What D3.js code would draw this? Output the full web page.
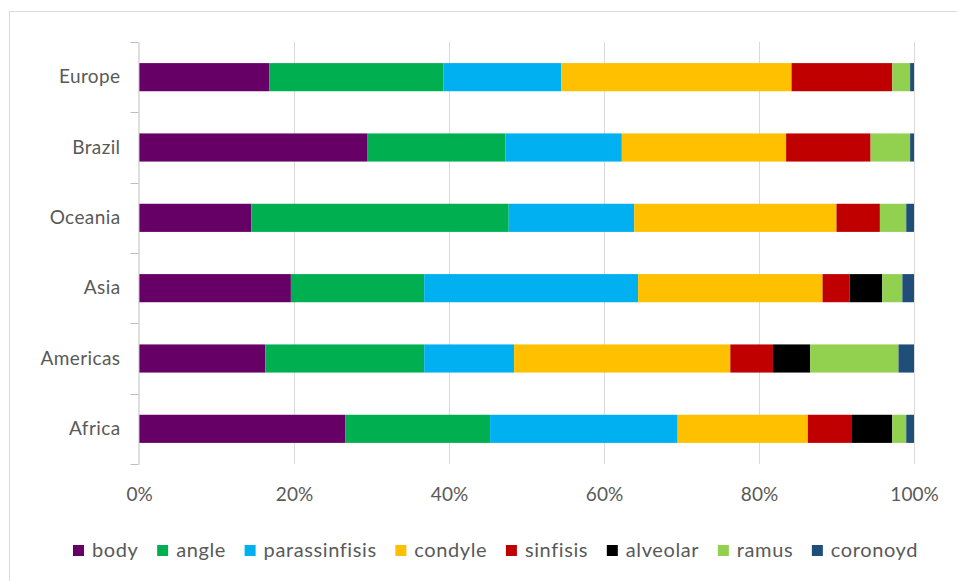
<!DOCTYPE html>
<html><head><meta charset="utf-8">
<script src="https://cdn.jsdelivr.net/npm/d3@7"></script>
<style>body{margin:0;background:#fff}svg{display:block}text{font-family:Lato,"Open Sans",sans-serif;fill:#595959}</style>
</head><body>
<svg id="c" width="957" height="581"></svg>
<script>
const categories = ["Europe","Brazil","Oceania","Asia","Americas","Africa"];
const seriesNames = ["body","angle","parassinfisis","condyle","sinfisis","alveolar","ramus","coronoyd"];
const seriesColors = ["#660066","#00B050","#00B0F0","#FFC000","#C00000","#000000","#92D050","#1F4E79"];
const body          = [16.8, 29.5, 14.5, 19.6, 16.3, 26.6];
const angle         = [22.5, 17.8, 33.2, 17.2, 20.5, 18.7];
const parassinfisis = [15.2, 15.0, 16.2, 27.6, 11.6, 24.2];
const condyle       = [29.7, 21.2, 26.1, 23.8, 27.9, 16.8];
const sinfisis      = [13.0, 10.9,  5.6,  3.5,  5.5,  5.7];
const alveolar      = [ 0.0,  0.0,  0.0,  4.2,  4.8,  5.2];
const ramus         = [ 2.3,  5.1,  3.4,  2.6, 11.4,  1.8];
const coronoyd      = [ 0.5,  0.5,  1.0,  1.5,  2.0,  1.0];
const tickValues = [0, 0.2, 0.4, 0.6, 0.8, 1.0];
const tickLabels = ["0%","20%","40%","60%","80%","100%"];

const seriesData = [body, angle, parassinfisis, condyle, sinfisis, alveolar, ramus, coronoyd];
const rows = categories.map((c, i) => {
  const r = {category: c};
  const tot = d3.sum(seriesData, s => s[i]);
  seriesNames.forEach((n, k) => r[n] = seriesData[k][i] / tot);
  return r;
});
const stack = d3.stack().keys(seriesNames)(rows);

const svg = d3.select("#c");
const x = d3.scaleLinear().domain([0, 1]).range([139, 914]);
const y = d3.scaleBand().domain(categories).range([42, 464]).paddingInner(0.6).paddingOuter(0.3);
const color = d3.scaleOrdinal().domain(seriesNames).range(seriesColors);

// frame
svg.append("rect").attr("x", 9.5).attr("y", 11.5).attr("width", 960).attr("height", 600)
  .attr("fill", "#fff").attr("stroke", "#d9d9d9");

// gridlines
svg.append("g").selectAll("line").data(tickValues.slice(1)).join("line")
  .attr("x1", d => Math.round(x(d)) + 0.5).attr("x2", d => Math.round(x(d)) + 0.5)
  .attr("y1", 42).attr("y2", 464).attr("stroke", "#d9d9d9");

// bars
svg.append("g").selectAll("g").data(stack).join("g")
  .attr("fill", d => color(d.key))
  .selectAll("rect").data(d => d).join("rect")
  .attr("x", d => x(d[0])).attr("width", d => x(d[1]) - x(d[0]))
  .attr("y", d => y(d.data.category)).attr("height", y.bandwidth());

// y axis
const yAxis = d3.axisLeft(y).tickSize(0).tickPadding(18);
const gy = svg.append("g").attr("transform", "translate(138.5,0)").call(yAxis);
gy.select(".domain").attr("stroke", "#bfbfbf");
gy.selectAll("text").attr("font-size", 19).attr("fill", "#595959").style("font-family", "Lato").style("letter-spacing", "0.4px");
const boundaries = [42].concat(categories.map(c => y(c) + y.bandwidth() + y.step() * 0.3));
gy.selectAll(".btick").data(boundaries).join("line").attr("class", "btick")
  .attr("x1", -8).attr("x2", 0).attr("y1", d => Math.round(d) + 0.5).attr("y2", d => Math.round(d) + 0.5)
  .attr("stroke", "#bfbfbf");

// x axis
const xAxis = d3.axisBottom(x).tickValues(tickValues).tickFormat((d, i) => tickLabels[i]).tickSize(0).tickPadding(24);
const gx = svg.append("g").attr("transform", "translate(0,464)").call(xAxis);
gx.select(".domain").remove();
gx.selectAll("text").attr("font-size", 19).attr("fill", "#595959").style("font-family", "Lato");

// legend: spread across the measured legend span
const legendLeft = 73, legendRight = 918;
const lg = svg.append("g").attr("transform", "translate(0,550)");
const items = seriesNames.map((n, k) => {
  const g = lg.append("g");
  g.append("rect").attr("x", 0).attr("y", -5).attr("width", 11).attr("height", 11).attr("fill", seriesColors[k]);
  const t = g.append("text").attr("x", 19).attr("y", 0).attr("dy", "0.35em")
    .attr("font-size", 20).style("letter-spacing", "0.6px").text(n);
  return {g, w: 19 + t.node().getComputedTextLength()};
});
const sumW = d3.sum(items, d => d.w);
const gap = (legendRight - legendLeft - sumW) / (items.length - 1);
let cx = legendLeft;
items.forEach(it => { it.g.attr("transform", `translate(${cx},0)`); cx += it.w + gap; });
</script>
</body></html>
